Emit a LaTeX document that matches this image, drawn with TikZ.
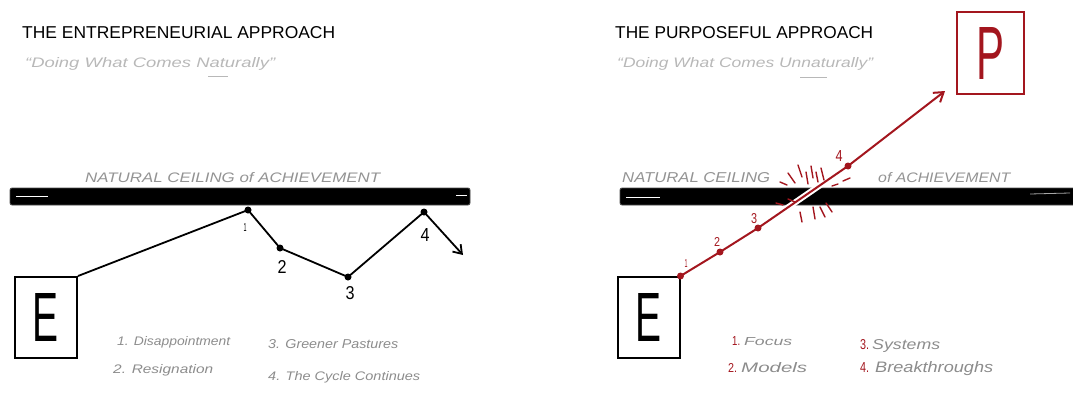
\documentclass[tikz,border=0pt]{standalone}
\usepackage{fontspec}
\setmainfont{Liberation Sans}
\usepackage{graphicx}
\usetikzlibrary{arrows.meta}
\definecolor{pred}{HTML}{A3161E}
\definecolor{lgray}{HTML}{B8B8B8}
\definecolor{mgray}{HTML}{8C8C8C}
\newcommand\fitwh[3]{\resizebox{#1}{#2}{#3}}
\begin{document}
\begin{tikzpicture}[x=1pt,y=-1pt,
  box/.style={draw=black,line width=2pt,minimum width=62pt,minimum height=81pt,inner sep=0pt},
  pbox/.style={draw=pred,line width=2pt,minimum width=67pt,minimum height=82pt,inner sep=0pt},
  txt/.style={inner sep=0pt,anchor=base west},
  num/.style={inner sep=0pt},
  dot/.style={circle,fill=black,inner sep=0pt,minimum size=7pt},
  rdot/.style={circle,fill=pred,inner sep=0pt,minimum size=7pt},
  blk/.style={line width=1.8pt,line join=round},
  rpath/.style={draw=pred,line width=2pt,line join=round},
  bar/.style={fill=black,draw=black!70,line width=0.8pt,rounded corners=2pt},
  hl/.style={draw=white,line width=1pt},
  burst/.style={draw=pred,line width=1.4pt,line cap=round},
]
\useasboundingbox (0,0) rectangle (1073,394);

% ---------------- LEFT PANEL ----------------
\node[txt] (t1) at (22,38) {\fitwh{313pt}{12pt}{THE ENTREPRENEURIAL APPROACH}};
\node[txt,text=lgray] (s1) at (25,67) {\fitwh{250pt}{10pt}{\itshape “Doing What Comes Naturally”}};
\draw[lgray,line width=0.6pt] (208,76) -- (228,76);

\node[txt,text=lgray!80!black] (c1) at (85,182) {\fitwh{295pt}{10pt}{\itshape NATURAL CEILING of ACHIEVEMENT}};
\draw[bar] (10,188) rectangle (470,205);
\draw[hl] (16,196) -- (48,196);
\draw[hl] (456,195) -- (467,195);

\node[box] (E1) at (46,317.5) {\fitwh{26pt}{48pt}{E}};

\coordinate (p1) at (248,210);
\coordinate (p2) at (280,248);
\coordinate (p3) at (348,277);
\coordinate (p4) at (424,212);
\coordinate (a4) at (463,255);
\draw[blk] (E1.north east) -- (p1) -- (p2) -- (p3) -- (p4);
\draw[blk,-{Straight Barb[length=8pt,width=11pt]}] (p4) -- (a4);
\node[dot] (d1) at (p1) {};
\node[dot] (d2) at (p2) {};
\node[dot] (d3) at (p3) {};
\node[dot] (d4) at (p4) {};
\node[num] (n1) at (245,227) {\fitwh{3pt}{8pt}{1}};
\node[num] (n2) at (282,267) {\fitwh{9pt}{13pt}{2}};
\node[num] (n3) at (350,293) {\fitwh{9pt}{13pt}{3}};
\node[num] (n4) at (425,235) {\fitwh{9pt}{13pt}{4}};

\node[txt,text=mgray] (g1) at (117,345) {\fitwh{113pt}{9pt}{\itshape 1. Disappointment}};
\node[txt,text=mgray] (g2) at (113,373) {\fitwh{100pt}{9pt}{\itshape 2. Resignation}};
\node[txt,text=mgray] (g3) at (268,348) {\fitwh{130pt}{9pt}{\itshape 3. Greener Pastures}};
\node[txt,text=mgray] (g4) at (268,380) {\fitwh{152pt}{9pt}{\itshape 4. The Cycle Continues}};

% ---------------- RIGHT PANEL ----------------
\node[txt] (t2) at (615,38) {\fitwh{258pt}{12pt}{THE PURPOSEFUL APPROACH}};
\node[txt,text=lgray] (s2) at (617,67) {\fitwh{256pt}{10pt}{\itshape “Doing What Comes Unnaturally”}};
\draw[lgray,line width=0.6pt] (800,77) -- (827,77);

\node[txt,text=lgray!80!black] (c2) at (622,182) {\fitwh{148pt}{10pt}{\itshape NATURAL CEILING}};
\node[txt,text=lgray!80!black] (c3) at (878,182) {\fitwh{132pt}{10pt}{\itshape of ACHIEVEMENT}};
\draw[bar] (620,188) rectangle (1076,205);
\draw[hl] (626,197) -- (660,197);
\draw[draw=black!35,line width=0.8pt] (1030,194) -- (1070,193);

\node[box] (E2) at (648.5,317.5) {\fitwh{26pt}{48pt}{E}};
\node[pbox] (P) at (990.5,53) {\textcolor{pred}{\fitwh{28pt}{52pt}{P}}};

\coordinate (r2) at (720,252);
\coordinate (r3) at (758,228);
\coordinate (r4) at (848,166);
\coordinate (rt) at (945,91);
\draw[white,line width=6pt] (r3) -- (r4);
\draw[rpath] (E2.north east) -- (r2) -- (r3) -- (r4);
\draw[rpath,-{Straight Barb[length=9pt,width=12pt]}] (r4) -- (rt);
\node[rdot] (e1) at (E2.north east) {};
\node[rdot] (e2) at (r2) {};
\node[rdot] (e3) at (r3) {};
\node[rdot] (e4) at (r4) {};
\node[num,text=pred] (m1) at (686,263) {\fitwh{3pt}{8pt}{1}};
\node[num,text=pred] (m2) at (717,242) {\fitwh{6pt}{9pt}{2}};
\node[num,text=pred] (m3) at (754,219) {\fitwh{6pt}{10pt}{3}};
\node[num,text=pred] (m4) at (839,156) {\fitwh{7pt}{11pt}{4}};

% burst around the crossing
\draw[burst] (780,182) -- (787,185);
\draw[burst] (788,173) -- (795,183);
\draw[burst] (798,165) -- (802,177);
\draw[burst] (806,172) -- (808,184);
\draw[burst] (811,166) -- (813,178);
\draw[burst] (816,172) -- (818,182);
\draw[burst] (821,168) -- (824,180);
\draw[burst] (843,181) -- (850,178);
\draw[burst] (832,186) -- (838,184);
\draw[burst] (776,203) -- (783,205);
\draw[burst] (788,199) -- (795,202);
\draw[burst] (800,212) -- (802,222);
\draw[burst] (813,207) -- (815,219);
\draw[burst] (820,207) -- (825,217);
\draw[burst] (826,203) -- (832,212);

\node[txt,text=pred] (h1) at (732,345) {\fitwh{8pt}{9pt}{1.}};
\node[txt,text=mgray] (h1t) at (744,345) {\fitwh{48pt}{8pt}{\itshape Focus}};
\node[txt,text=pred] (h2) at (728,372) {\fitwh{9pt}{9pt}{2.}};
\node[txt,text=mgray] (h2t) at (741,372) {\fitwh{66pt}{10pt}{\itshape Models}};
\node[txt,text=pred] (h3) at (860,349) {\fitwh{9pt}{10pt}{3.}};
\node[txt,text=mgray] (h3t) at (872,349) {\fitwh{68pt}{10pt}{\itshape Systems}};
\node[txt,text=pred] (h4) at (860,372) {\fitwh{9pt}{10pt}{4.}};
\node[txt,text=mgray] (h4t) at (875,372) {\fitwh{118pt}{11pt}{\itshape Breakthroughs}};
\end{tikzpicture}
\end{document}
